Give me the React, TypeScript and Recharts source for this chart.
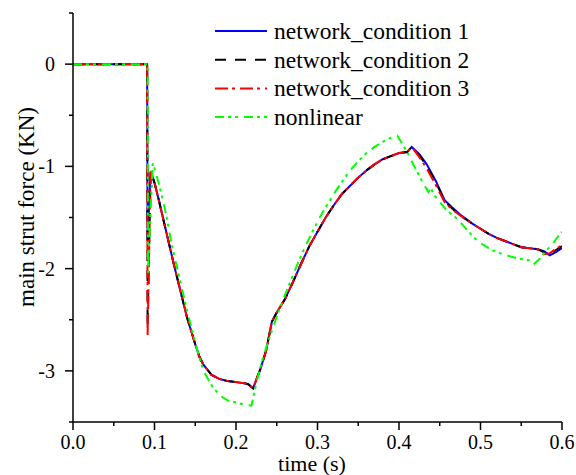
import React from "react"
import { LineChart, Line, XAxis, YAxis, Legend, Label } from "recharts"

const seriesNames = ["network_condition 1", "network_condition 2", "network_condition 3", "nonlinear"]

const xTicks = [0, 0.05, 0.1, 0.15, 0.2, 0.25, 0.3, 0.35, 0.4, 0.45, 0.5, 0.55, 0.6]
const yTicks = [-3.5, -3, -2.5, -2, -1.5, -1, -0.5, 0, 0.5]

// time points shared by the three network conditions
const tNet = [
  0, 0.091, 0.0915, 0.0953, 0.1, 0.105, 0.11, 0.115, 0.12, 0.125, 0.13, 0.135, 0.14, 0.145, 0.15, 0.155, 0.16,
  0.17, 0.18, 0.19, 0.2, 0.21, 0.215, 0.221, 0.23, 0.237, 0.244, 0.25, 0.26, 0.27, 0.28, 0.29, 0.3, 0.31, 0.32,
  0.33, 0.34, 0.35, 0.36, 0.37, 0.38, 0.39, 0.4, 0.41, 0.4156, 0.425, 0.434, 0.445, 0.456, 0.465, 0.475, 0.49,
  0.5, 0.51, 0.52, 0.53, 0.54, 0.55, 0.56, 0.57, 0.578, 0.585, 0.592, 0.6,
]

const cond1 = [
  0, 0, -1.72, -1.05, -1.16, -1.32, -1.49, -1.66, -1.83, -2.0, -2.16, -2.32, -2.48, -2.61, -2.74, -2.86, -2.94,
  -3.04, -3.08, -3.1, -3.11, -3.12, -3.13, -3.17, -2.98, -2.8, -2.52, -2.43, -2.3, -2.13, -1.95, -1.78, -1.64,
  -1.5, -1.38, -1.27, -1.19, -1.11, -1.04, -0.98, -0.93, -0.9, -0.87, -0.86, -0.81, -0.88, -0.98, -1.14, -1.33,
  -1.4, -1.47, -1.56, -1.61, -1.66, -1.7, -1.73, -1.76, -1.79, -1.8, -1.81, -1.83, -1.87, -1.84, -1.8,
]

const cond2 = [
  0, 0, -2.57, -1.05, -1.16, -1.32, -1.49, -1.66, -1.83, -2.0, -2.16, -2.32, -2.48, -2.61, -2.74, -2.86, -2.94,
  -3.04, -3.08, -3.1, -3.11, -3.12, -3.13, -3.17, -2.98, -2.8, -2.52, -2.43, -2.3, -2.13, -1.95, -1.78, -1.64,
  -1.5, -1.38, -1.27, -1.19, -1.11, -1.04, -0.98, -0.93, -0.9, -0.87, -0.86, -0.81, -0.89, -1.0, -1.15, -1.34,
  -1.41, -1.48, -1.56, -1.61, -1.66, -1.7, -1.73, -1.76, -1.79, -1.8, -1.81, -1.84, -1.86, -1.82, -1.78,
]

const cond3 = [
  0, 0, -2.67, -1.05, -1.16, -1.32, -1.49, -1.66, -1.83, -2.0, -2.16, -2.32, -2.48, -2.61, -2.74, -2.86, -2.94,
  -3.04, -3.08, -3.1, -3.11, -3.12, -3.13, -3.17, -2.98, -2.8, -2.52, -2.43, -2.3, -2.13, -1.95, -1.78, -1.64,
  -1.5, -1.38, -1.27, -1.19, -1.11, -1.04, -0.98, -0.93, -0.9, -0.87, -0.86, -0.81, -0.91, -1.02, -1.18, -1.35,
  -1.42, -1.48, -1.56, -1.61, -1.66, -1.7, -1.73, -1.76, -1.79, -1.8, -1.81, -1.86, -1.85, -1.81, -1.77,
]

const tNonlinear = [
  0, 0.0915, 0.092, 0.0978, 0.1, 0.105, 0.11, 0.115, 0.12, 0.125, 0.13, 0.135, 0.14, 0.145, 0.15, 0.155, 0.16,
  0.17, 0.18, 0.19, 0.2, 0.21, 0.219, 0.225, 0.232, 0.24, 0.25, 0.26, 0.27, 0.28, 0.29, 0.3, 0.31, 0.32, 0.33,
  0.34, 0.35, 0.36, 0.37, 0.38, 0.39, 0.398, 0.41, 0.42, 0.43, 0.436, 0.439, 0.443, 0.4585, 0.471, 0.48, 0.491,
  0.5, 0.51, 0.52, 0.532, 0.545, 0.561, 0.565, 0.573, 0.58, 0.59, 0.5996,
]

const nonlinear = [
  0, 0, -2.04, -0.97, -1.02, -1.16, -1.32, -1.5, -1.72, -1.9, -2.07, -2.24, -2.41, -2.57, -2.72, -2.87, -3.0,
  -3.14, -3.24, -3.29, -3.31, -3.33, -3.34, -3.12, -2.9, -2.7, -2.47, -2.26, -2.06, -1.87, -1.7, -1.54, -1.4,
  -1.27, -1.15, -1.04, -0.95, -0.87, -0.81, -0.76, -0.72, -0.7, -0.86, -1.02, -1.17, -1.25, -1.21, -1.28, -1.43,
  -1.51, -1.59, -1.69, -1.75, -1.8, -1.84, -1.87, -1.9, -1.92, -1.96, -1.9, -1.83, -1.74, -1.64,
]

const zip = (ts: number[], vs: number[]) => ts.map((t, i) => ({ t, v: vs[i] }))

const series = [
  { name: seriesNames[0], data: zip(tNet, cond1), color: "#0000ff", dash: undefined },
  { name: seriesNames[1], data: zip(tNet, cond2), color: "#000000", dash: "11 9" },
  { name: seriesNames[2], data: zip(tNet, cond3), color: "#ff0000", dash: "13 4 3 5" },
  { name: seriesNames[3], data: zip(tNonlinear, nonlinear), color: "#00ff00", dash: "9 4 3 4 3 6" },
]

const FONT = "Liberation Serif, Times New Roman, DejaVu Serif, serif"

const isMajor = (v: number, step: number) => Math.abs(v / step - Math.round(v / step)) < 1e-6

const XTick = (props: any) => {
  const { x, y, payload } = props
  const major = isMajor(payload.value, 0.1)
  return (
    <g>
      <line x1={x} x2={x} y1={y} y2={y + (major ? 8 : 4)} stroke="#000" strokeWidth={1.5} />
      {major && (
        <text x={x} y={y + 27} textAnchor="middle" fontSize={20} fontFamily={FONT} fill="#000">
          {payload.value.toFixed(1)}
        </text>
      )}
    </g>
  )
}

const YTick = (props: any) => {
  const { x, y, payload } = props
  const major = isMajor(payload.value, 1)
  return (
    <g>
      <line x1={x} x2={x - (major ? 8 : 4)} y1={y} y2={y} stroke="#000" strokeWidth={1.5} />
      {major && (
        <text x={x - 18} y={y + 7} textAnchor="end" fontSize={20} fontFamily={FONT} fill="#000">
          {String(payload.value)}
        </text>
      )}
    </g>
  )
}

const LegendBox = () => (
  <svg width={320} height={124}>
    {series.map((s, i) => {
      const cy = 17 + i * 28.7
      return (
        <g key={s.name}>
          <line x1={5} x2={57} y1={cy} y2={cy} stroke={s.color} strokeWidth={2} strokeDasharray={s.dash} />
          <text x={64} y={cy + 8} fontSize={23.5} fontFamily={FONT} fill="#000">
            {s.name}
          </text>
        </g>
      )
    })}
  </svg>
)

export default function App() {
  return (
    <div style={{ position: "absolute", left: 0, top: 0, background: "#fff" }}>
      <LineChart width={576} height={475} margin={{ top: 13, right: 14, bottom: 0, left: 0 }}>
        <XAxis
          type="number"
          dataKey="t"
          domain={[0, 0.6]}
          ticks={xTicks}
          interval={0}
          height={53}
          tick={<XTick />}
          tickLine={false}
          tickSize={0}
          tickMargin={0}
          axisLine={{ stroke: "#000", strokeWidth: 1.5 }}
          allowDataOverflow
        >
          <Label
            content={() => (
              <text x={312} y={471} textAnchor="middle" fontSize={22} fontFamily={FONT} fill="#000">
                time (s)
              </text>
            )}
          />
        </XAxis>
        <YAxis
          type="number"
          domain={[-3.5, 0.5]}
          ticks={yTicks}
          interval={0}
          width={73}
          tick={<YTick />}
          tickLine={false}
          tickSize={0}
          tickMargin={0}
          axisLine={{ stroke: "#000", strokeWidth: 1.5 }}
          allowDataOverflow
        >
          <Label
            content={() => (
              <text
                x={34}
                y={207}
                textAnchor="middle"
                fontSize={23}
                fontFamily={FONT}
                fill="#000"
                transform="rotate(-90, 34, 207)"
              >
                main strut force (KN)
              </text>
            )}
          />
        </YAxis>
        <Legend
          layout="vertical"
          align="center"
          verticalAlign="middle"
          wrapperStyle={{ left: 210, top: 14, width: 320, height: 124 }}
          content={() => <LegendBox />}
        />
        {series.map((s) => (
          <Line
            key={s.name}
            name={s.name}
            data={s.data}
            dataKey="v"
            type="linear"
            stroke={s.color}
            strokeWidth={2}
            strokeDasharray={s.dash}
            dot={false}
            activeDot={false}
            isAnimationActive={false}
          />
        ))}
      </LineChart>
    </div>
  )
}
